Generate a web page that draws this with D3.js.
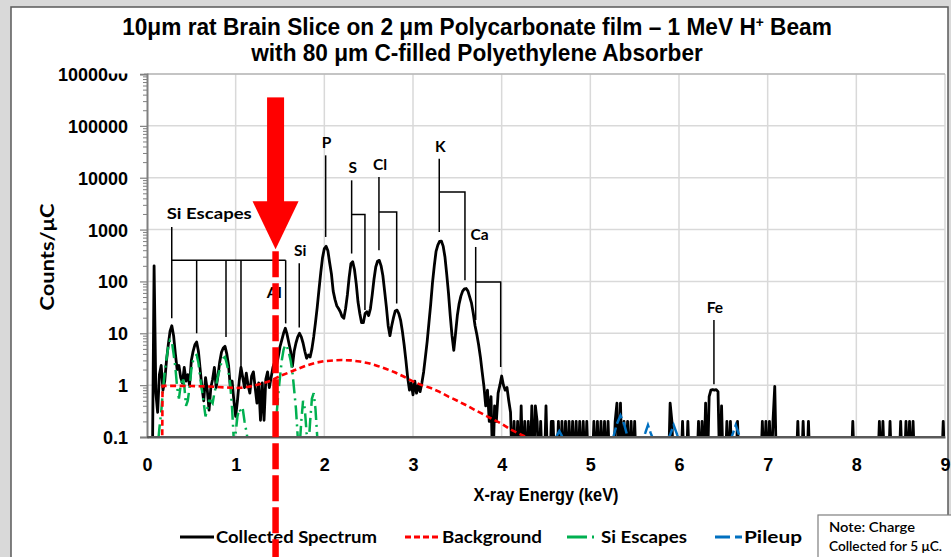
<!DOCTYPE html>
<html><head><meta charset="utf-8">
<script src="https://cdn.jsdelivr.net/npm/d3@7"></script>
<style>
html,body{margin:0;padding:0;background:#d9d9d9;}
svg{display:block;}
</style></head><body>
<svg id="chart" width="951" height="557"></svg>
<script>
// ---------------- DATA ----------------
const channelStart = 0.0;
const channelWidth = 0.02; // keV per channel
// Collected spectrum, counts/uC, one value per channel from 0.00 to 9.00 keV
const counts = [
  0, 0, 0, 0, 200, 0.7, 0.3, 1.6, 2.4, 0.8,
  1.2, 3, 6, 11, 14, 9, 4, 2, 2.4, 1.4,
  1.1, 2.2, 1.2, 1.6, 1.0, 3.0, 4.5, 6.0, 6.8, 4.5,
  2.0, 0.9, 0.5, 1.4, 0.8, 0.33, 0.9, 1.3, 2.2, 0.9,
  1.5, 2.8, 4.3, 5.2, 5.6, 4.0, 2.4, 0.9, 1.2, 0.5,
  0.25, 0.5, 1.2, 2.2, 1.4, 0.9, 1.7, 1.0, 0.7, 1.5,
  1.8, 0.9, 0.45, 1.1, 0.21, 1.1, 0.21, 1.3, 1.8, 0.9,
  1.4, 2.2, 2.8, 2.4, 3.5, 5.5, 7.4, 10, 12.5, 9.5,
  6.5, 4.5, 2.3, 4.5, 6.5, 8.5, 10, 8.5, 6.5, 4.5,
  3.3, 3.8, 3.5, 5, 8.5, 16, 32, 70, 150, 290,
  430, 475, 390, 230, 140, 65, 45, 34, 30, 26,
  21, 19.5, 30, 55, 120, 220, 240, 170, 90, 40,
  24, 16, 16, 24, 26, 22, 30, 55, 110, 190,
  245, 255, 200, 130, 65, 32, 14, 9, 14, 20,
  27, 28, 24, 18, 11, 6, 3, 1.4, 0.8, 1.1,
  0.65, 1.2, 0.7, 1.0, 0.75, 1.1, 1.8, 3.5, 7, 16,
  37, 95, 200, 380, 500, 590, 600, 480, 300, 140,
  60, 22, 9, 4.7, 10, 22, 37, 52, 65, 72,
  73, 65, 50, 38, 24, 14, 9.5, 6, 3.5, 1.8,
  0.95, 0.4, 0.8, 0.2, 0.6, 0, 0.4, 0.2, 0.7, 1.0,
  1.5, 1.0, 0.8, 0.9, 0.5, 0.3, 0, 0.2, 0, 0.2,
  0, 0.4, 0, 0.2, 0, 0.2, 0, 0.4, 0, 0.4,
  0.2, 0, 0.2, 0, 0, 0.4, 0, 0, 0.2, 0.2,
  0, 0, 0.2, 0, 0.2, 0, 0.2, 0, 0.2, 0,
  0.2, 0, 0.2, 0, 0.2, 0, 0.2, 0, 0.2, 0,
  0, 0, 0.2, 0, 0.2, 0, 0.2, 0, 0.2, 0,
  0.2, 0, 0, 0, 0.2, 0.45, 0, 0.45, 0, 0.2,
  0, 0.2, 0, 0.2, 0, 0.2, 0, 0, 0, 0,
  0, 0, 0, 0, 0, 0, 0, 0, 0, 0,
  0, 0, 0, 0, 0, 0.45, 0.2, 0, 0, 0,
  0, 0, 0.2, 0, 0, 0.2, 0, 0, 0, 0,
  0, 0.2, 0, 0.2, 0, 0.45, 0, 0.6, 0.8, 0.82,
  0.8, 0.82, 0.75, 0, 0.4, 0, 0, 0.2, 0, 0.2,
  0, 0, 0, 0.2, 0, 0, 0, 0, 0, 0,
  0, 0, 0, 0, 0, 0, 0, 0.2, 0, 0.2,
  0, 0.2, 0, 0.2, 0.95, 0, 0, 0, 0, 0,
  0, 0, 0, 0, 0, 0, 0, 0.2, 0, 0,
  0.2, 0, 0, 0.2, 0, 0, 0, 0, 0, 0,
  0, 0, 0, 0, 0, 0, 0, 0, 0, 0,
  0, 0, 0, 0, 0, 0, 0, 0, 0.2, 0,
  0, 0, 0, 0, 0, 0, 0, 0, 0, 0,
  0, 0, 0, 0.2, 0, 0.2, 0, 0, 0, 0.2,
  0, 0, 0, 0, 0, 0.2, 0, 0, 0.2, 0,
  0.2, 0, 0.2, 0, 0, 0, 0, 0, 0, 0,
  0, 0, 0, 0, 0, 0, 0, 0, 0, 0.2,
  0
];

// Background
const bgEnergy = [0.17, 0.175, 0.3, 0.5, 0.7, 0.9, 1.0, 1.1, 1.2, 1.3, 1.4, 1.5, 1.6, 1.7, 1.8, 1.9, 2.0, 2.1, 2.2, 2.3, 2.4, 2.5, 2.6, 2.7, 2.8, 2.9, 3.0, 3.1, 3.2, 3.3, 3.4, 3.5, 3.6, 3.7, 3.8, 3.9, 4.0, 4.1, 4.2, 4.3, 4.4];
const bgCounts = [0.01, 0.97, 0.97, 0.96, 0.94, 0.9, 0.88, 0.9, 0.97, 1.08, 1.22, 1.5, 1.75, 2.05, 2.4, 2.7, 2.9, 3.0, 3.05, 3.0, 2.85, 2.65, 2.35, 2.05, 1.75, 1.45, 1.18, 1.0, 0.88, 0.74, 0.6, 0.5, 0.41, 0.33, 0.27, 0.22, 0.18, 0.14, 0.115, 0.095, 0.08];

// Si escapes, 0.02 keV steps starting at 0.10 keV
const escStart = 0.10;
const escCounts = [
  0.03, 0.06, 0.15, 0.3, 0.8, 1.8, 3.2, 5.5, 7.4, 7.0,
  4.0, 2.2, 0.9, 0.55, 1.0, 1.4, 1.0, 0.4, 0.5, 0.9,
  2.0, 3.0, 3.6, 3.8, 2.7, 1.4, 0.8, 0.45, 0.25, 0.35,
  0.5, 0.5, 0.45, 0.7, 1.0, 1.5, 2.0, 2.8, 3.3, 3.5,
  2.6, 1.8, 1.0, 0.35, 0.08, 0.12, 0.25, 0.35, 0.3, 0.35,
  0.2, 0.13, 0.08, 0.06, 0.05, 0.05, 0.05, 0.05, 0.05, 0.05,
  0.05, 0.05, 0.05, 0.05, 0.05, 0.06, 0.07, 0.1, 0.25, 0.65,
  1.45, 3.0, 4.8, 6.0, 5.5, 4.2, 3.0, 1.8, 0.8, 0.35,
  0.1, 0.06, 0.2, 0.5, 0.35, 0.12, 0.06, 0.2, 0.55, 0.7,
  0.35, 0.1, 0.05, 0.04, 0.03, 0.03
];

// Pileup
const pileupEnergy = [4.20, 4.28, 4.32, 4.36, 4.44, 4.56, 4.60, 4.65, 4.70, 4.76, 4.90, 5.05, 5.20, 5.26, 5.30, 5.34, 5.38, 5.42, 5.48, 5.58, 5.62, 5.65, 5.68, 5.72, 5.82, 5.90, 5.94, 5.98, 6.04, 6.20, 6.40, 6.56, 6.61, 6.64, 6.67, 6.72, 6.85];
const pileupCounts = [0.03, 0.06, 0.1, 0.06, 0.04, 0.06, 0.09, 0.13, 0.09, 0.05, 0.04, 0.05, 0.07, 0.1, 0.18, 0.26, 0.18, 0.1, 0.06, 0.08, 0.12, 0.17, 0.12, 0.08, 0.06, 0.11, 0.17, 0.11, 0.06, 0.04, 0.05, 0.07, 0.12, 0.17, 0.12, 0.07, 0.03];

// Axes
const xTicks = [0, 1, 2, 3, 4, 5, 6, 7, 8, 9];
const yTicks = [0.1, 1, 10, 100, 1000, 10000, 100000, 1000000];
const yTickLabels = ["0.1", "1", "10", "100", "1000", "10000", "100000", "1000000"];

// Peak annotations (energy in keV, line ends in counts/uC)
const peakNames   = ["P", "S", "Cl", "K", "Ca", "Fe", "Si"];
const peakEnergy  = [2.015, 2.308, 2.616, 3.296, 3.707, 6.394, 1.717];
const peakTop     = [27000, 8900, 10300, 23300, 462, 18, 224];
const peakBottom  = [720, 345, 400, 900, 18, 1.04, 13];
const betaLevel   = [null, 1950, 2180, 5300, 98, null, null];
const betaEnergy  = [null, 2.458, 2.816, 3.586, 3.989, null, null];
const betaBottom  = [null, 28, 37.5, 105, 2.25, null, null];

const escLabel = "Si Escapes";
const escMainEnergy = 0.279, escMainTop = 1120, escMainBottom = 19.5, escBracket = 256;
const escDropEnergy = [0.560, 0.891, 1.060, 1.564];
const escDropBottom = [10, 8.5, 2.25, 15.5];
const alLabel = {text: "Al", energy: 1.435, counts: 48};

const arrowEnergy = 1.45;
const arrowTop = 354000, arrowHeadBase = 3500, arrowTip = 417;

const titleLines = ["10\u03bcm rat Brain Slice on 2 \u03bcm Polycarbonate film \u2013 1 MeV H", "with 80 \u03bcm C-filled Polyethylene Absorber"];
const legendNames = ["Collected Spectrum", "Background", "Si Escapes", "Pileup"];
const noteLines = ["Note:  Charge", "Collected for 5 \u03bcC."];

// ---------------- DRAW ----------------
const svg = d3.select("#chart");
const W = 951, H = 557;
const L = 147, R = 945, T = 74, B = 437;
const x = d3.scaleLinear().domain([0, 9]).range([L, R]);
const y = d3.scaleLog().domain([0.1, 1e6]).range([B, T]);
const floorV = 0.02;

// helper: squeeze a text horizontally to a target width around a centre
function fitWidth(sel, cx, by, width) {
  const w = sel.node().getBBox().width;
  sel.attr("x", 0).attr("y", 0).attr("text-anchor", "middle")
    .attr("transform", `translate(${cx},${by}) scale(${width / w},1)`);
}

// chart background
svg.append("rect").attr("x", 11).attr("y", 7).attr("width", 937).attr("height", 570)
  .attr("fill", "#ffffff").attr("stroke", "#595959").attr("stroke-width", 1.5);

// gridlines
const grid = svg.append("g");
grid.selectAll("line.h").data(yTicks.slice(1)).join("line")
  .attr("x1", L).attr("x2", R).attr("y1", d => y(d)).attr("y2", d => y(d))
  .attr("stroke", "#d9d9d9").attr("stroke-width", 1.5);
grid.selectAll("line.v").data(xTicks.slice(1)).join("line")
  .attr("y1", T).attr("y2", B).attr("x1", d => x(d)).attr("x2", d => x(d))
  .attr("stroke", "#d9d9d9").attr("stroke-width", 1.5);
svg.append("line").attr("x1", L).attr("x2", R).attr("y1", T).attr("y2", T).attr("stroke", "#a6a6a6").attr("stroke-width", 1.2);

// y axis
const minor = [];
for (let k = -1; k < 6; k++) for (let m = 2; m <= 9; m++) minor.push(m * Math.pow(10, k));
const yMinor = svg.append("g").attr("transform", `translate(${L},0)`)
  .call(d3.axisLeft(y).tickValues(minor).tickSize(4).tickFormat(""));
yMinor.select(".domain").remove();
yMinor.selectAll("line").attr("stroke", "#808080").attr("stroke-width", 1);
const yAxis = svg.append("g").attr("transform", `translate(${L},0)`)
  .call(d3.axisLeft(y).tickValues(yTicks).tickSize(7).tickPadding(12).tickFormat((d, i) => yTickLabels[i]));
yAxis.select(".domain").attr("stroke", "#808080").attr("stroke-width", 2);
yAxis.selectAll(".tick line").attr("stroke", "#808080").attr("stroke-width", 1.2);
yAxis.selectAll("text").attr("font-family", "Liberation Sans, Arial, sans-serif")
  .attr("font-weight", "bold").attr("font-size", 18).attr("fill", "#000").attr("dy", "0.36em");

// the title box overlaps the top of the top label in the reference
svg.append("rect").attr("x", 108).attr("y", 40).attr("width", 36).attr("height", 33.5).attr("fill", "#fff");

// x axis
const xAxis = svg.append("g").attr("transform", `translate(0,${B})`)
  .call(d3.axisBottom(x).tickValues(xTicks).tickSize(0).tickPadding(34).tickFormat(d3.format("d")));
xAxis.select(".domain").attr("stroke", "#595959").attr("stroke-width", 2);
xAxis.selectAll("text").attr("font-family", "Liberation Sans, Arial, sans-serif")
  .attr("font-weight", "bold").attr("font-size", 18).attr("fill", "#000").attr("dy", "0");

// clip
svg.append("clipPath").attr("id", "plotclip").append("rect")
  .attr("x", L).attr("y", T).attr("width", R - L).attr("height", B - T);
const plot = svg.append("g").attr("clip-path", "url(#plotclip)");

const line = d3.line().x(d => x(d.e)).y(d => y(Math.max(d.v, floorV)));
const spectrum = counts.map((v, i) => ({e: channelStart + i * channelWidth, v}));
const background = bgEnergy.map((e, i) => ({e, v: bgCounts[i]}));
const escapes = escCounts.map((v, i) => ({e: escStart + i * channelWidth, v}));
const pileup = pileupEnergy.map((e, i) => ({e, v: pileupCounts[i]}));

plot.append("path").datum(spectrum).attr("d", line).attr("fill", "none")
  .attr("stroke", "#000").attr("stroke-width", 2.8).attr("stroke-linejoin", "round");
plot.append("path").datum(escapes).attr("d", line).attr("fill", "none")
  .attr("stroke", "#00b050").attr("stroke-width", 2.5).attr("stroke-dasharray", "14,5,2,5");
plot.append("path").datum(pileup).attr("d", line).attr("fill", "none")
  .attr("stroke", "#0070c0").attr("stroke-width", 2.5).attr("stroke-dasharray", "12,4");
plot.append("path").datum(background).attr("d", line).attr("fill", "none")
  .attr("stroke", "#ff0000").attr("stroke-width", 2.6).attr("stroke-dasharray", "6,3.5");

svg.append("line").attr("x1", L).attr("x2", R).attr("y1", B).attr("y2", B).attr("stroke", "#595959").attr("stroke-width", 2);

// annotations
const ann = svg.append("g").attr("stroke", "#000").attr("stroke-width", 1.5).attr("fill", "none");
const labelFont = "Lato, 'Open Sans', sans-serif";
peakNames.forEach((n, i) => {
  const px = x(peakEnergy[i]);
  ann.append("line").attr("x1", px).attr("x2", px).attr("y1", y(peakTop[i])).attr("y2", y(peakBottom[i]));
  if (betaLevel[i] !== null) {
    const bx = x(betaEnergy[i]);
    ann.append("path").attr("d", `M${px},${y(betaLevel[i])}H${bx}V${y(betaBottom[i])}`);
  }
  svg.append("text").attr("x", px + (n === "Ca" ? 4 : 1)).attr("y", y(peakTop[i]) - 7)
    .attr("text-anchor", "middle").attr("font-family", labelFont).attr("font-weight", 700)
    .attr("font-size", 15.5).attr("fill", "#000").text(n);
});
const ex = x(escMainEnergy);
ann.append("line").attr("x1", ex).attr("x2", ex).attr("y1", y(escMainTop)).attr("y2", y(escMainBottom));
ann.append("line").attr("x1", ex).attr("x2", x(escDropEnergy[escDropEnergy.length - 1]))
  .attr("y1", y(escBracket)).attr("y2", y(escBracket));
escDropEnergy.forEach((e, i) => {
  ann.append("line").attr("x1", x(e)).attr("x2", x(e)).attr("y1", y(escBracket)).attr("y2", y(escDropBottom[i]));
});
svg.append("text").attr("x", ex - 5).attr("y", y(escMainTop) - 8)
  .attr("font-family", labelFont).attr("font-weight", 700).attr("font-size", 15.5).attr("fill", "#000")
  .attr("textLength", 85).attr("lengthAdjust", "spacingAndGlyphs").text(escLabel);
svg.append("text").attr("x", x(alLabel.energy)).attr("y", y(alLabel.counts))
  .attr("text-anchor", "middle").attr("font-family", labelFont).attr("font-weight", 700)
  .attr("font-size", 16).attr("fill", "#000").text(alLabel.text);

// title
const titleFont = "'Liberation Sans Narrow', 'Arial Narrow', 'Liberation Sans', Arial, sans-serif";
const t1 = svg.append("text").attr("font-family", titleFont).attr("font-weight", "bold")
  .attr("font-size", 23).attr("fill", "#000");
t1.append("tspan").text(titleLines[0]);
t1.append("tspan").attr("font-size", 14).attr("dy", -8).text("+");
t1.append("tspan").attr("dy", 8).text(" Beam");
fitWidth(t1, 477, 35, 710);
const t2 = svg.append("text").attr("font-family", titleFont).attr("font-weight", "bold")
  .attr("font-size", 23).attr("fill", "#000").text(titleLines[1]);
fitWidth(t2, 477, 61, 453);

// axis titles
const xt = svg.append("text").attr("font-family", titleFont).attr("font-weight", "bold")
  .attr("font-size", 19).attr("fill", "#000").text("X-ray Energy (keV)");
fitWidth(xt, (L + R) / 2, 501, 145);
svg.append("text").attr("transform", "translate(54,257) rotate(-90)").attr("text-anchor", "middle")
  .attr("font-family", labelFont).attr("font-weight", 700).attr("font-size", 19).attr("fill", "#000")
  .attr("textLength", 107).attr("lengthAdjust", "spacingAndGlyphs").text("Counts/\u03bcC");

// legend
const lg = svg.append("g");
const legY = 537;
const legSamples = [[180, 214], [405, 440], [567, 595], [715, 742]];
const legText = [[216, 161], [442, 100], [601, 86], [744, 58]];
const legColors = ["#000", "#ff0000", "#00b050", "#0070c0"];
const legDash = [null, "6,3", "20,5,2,5", "15,5"];
legendNames.forEach((n, i) => {
  const l = lg.append("line").attr("x1", legSamples[i][0]).attr("x2", legSamples[i][1])
    .attr("y1", legY).attr("y2", legY).attr("stroke", legColors[i]).attr("stroke-width", 3);
  if (legDash[i]) l.attr("stroke-dasharray", legDash[i]);
  lg.append("text").attr("x", legText[i][0]).attr("y", legY + 6)
    .attr("font-family", labelFont).attr("font-weight", 700).attr("font-size", 17).attr("fill", "#000")
    .attr("textLength", legText[i][1]).attr("lengthAdjust", "spacingAndGlyphs").text(n);
});

// note box
svg.append("rect").attr("x", 818).attr("y", 515).attr("width", 150).attr("height", 60)
  .attr("fill", "#fff").attr("stroke", "#7f7f7f").attr("stroke-width", 1.2);
svg.append("text").attr("x", 829).attr("y", 532).attr("font-family", labelFont).attr("font-weight", 600)
  .attr("font-size", 13).attr("fill", "#000").attr("textLength", 86).attr("lengthAdjust", "spacingAndGlyphs").text(noteLines[0]);
svg.append("text").attr("x", 829).attr("y", 551).attr("font-family", labelFont).attr("font-weight", 600)
  .attr("font-size", 13).attr("fill", "#000").attr("textLength", 113).attr("lengthAdjust", "spacingAndGlyphs").text(noteLines[1]);

// red arrow
const ax = x(arrowEnergy);
const arrow = svg.append("g").attr("fill", "#ff0000");
arrow.append("rect").attr("x", ax - 8.5).attr("y", y(arrowTop)).attr("width", 17).attr("height", y(arrowHeadBase) - y(arrowTop) + 1);
arrow.append("path").attr("d", `M${ax - 23},${y(arrowHeadBase)}L${ax + 23},${y(arrowHeadBase)}L${ax},${y(arrowTip)}Z`);
arrow.append("line").attr("x1", ax).attr("x2", ax).attr("y1", y(arrowTip) + 2).attr("y2", H + 5)
  .attr("stroke", "#ff0000").attr("stroke-width", 6.5).attr("stroke-dasharray", "26,6");
</script>
</body></html>
